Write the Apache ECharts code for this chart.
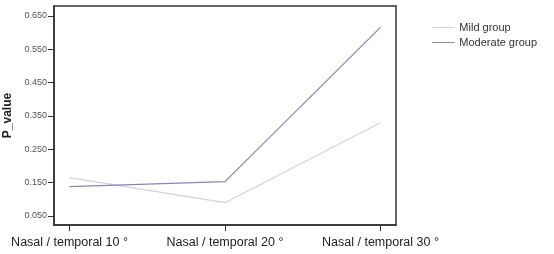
<!DOCTYPE html>
<html><head><meta charset="utf-8">
<script src="https://cdn.jsdelivr.net/npm/echarts@6/dist/echarts.min.js"></script>
<style>html,body{margin:0;padding:0;background:#fff}#c{width:554px;height:254px}</style>
</head><body><div id="c"></div>
<script>
const categories = ["Nasal / temporal 10 °", "Nasal / temporal 20 °", "Nasal / temporal 30 °"];
const mildGroup = [0.165, 0.090, 0.330];
const moderateGroup = [0.138, 0.153, 0.616];
const yTicks = [0.05, 0.15, 0.25, 0.35, 0.45, 0.55, 0.65];
const xTicks = [0, 1, 2];

const chart = echarts.init(document.getElementById('c'));
const font = 'Liberation Sans, Arial, sans-serif';
chart.setOption({
  animation: false,
  grid: {left: 54, right: 158, top: 6, bottom: 29, outerBoundsMode: 'none', containLabel: false, show: true, borderColor: '#333', borderWidth: 1.5, backgroundColor: 'transparent'},
  legend: {
    right: 12, top: 17, orient: 'vertical', itemGap: 4, itemWidth: 22, itemHeight: 10,
    icon: 'path://M0,4.5L22,4.5L22,5.5L0,5.5Z',
    textStyle: {fontFamily: font, fontSize: 11, color: '#333'},
    data: ['Mild group', 'Moderate group']
  },
  xAxis: {
    type: 'value', min: -0.1, max: 2.1,
    splitLine: {show: false},
    axisLine: {onZero: false, lineStyle: {color: '#333', width: 1.5}},
    axisTick: {show: true, length: 6, lineStyle: {color: '#333'}, customValues: xTicks},
    axisLabel: {customValues: xTicks, formatter: v => categories[Math.round(v)], fontFamily: font, fontSize: 12.5, color: '#222', margin: 11, showMinLabel: true, showMaxLabel: true}
  },
  yAxis: {
    type: 'value', min: 0.023, max: 0.68,
    name: 'P_value', nameLocation: 'middle', nameGap: 37, nameRotate: 90,
    nameTextStyle: {fontFamily: font, fontSize: 12, fontWeight: 'bold', color: '#222'},
    splitLine: {show: false},
    axisLine: {onZero: false, lineStyle: {color: '#333', width: 1.5}},
    axisTick: {show: true, length: 6, lineStyle: {color: '#333'}, customValues: yTicks},
    axisLabel: {customValues: yTicks, formatter: v => v.toFixed(3), fontFamily: font, fontSize: 9, color: '#555', margin: 7}
  },
  series: [
    {name: 'Mild group', type: 'line', symbol: 'none', data: mildGroup.map((v, i) => [xTicks[i], v]),
      lineStyle: {color: '#d6d0d8', width: 1.2}, itemStyle: {color: '#d6d0d8'}},
    {name: 'Moderate group', type: 'line', symbol: 'none', data: moderateGroup.map((v, i) => [xTicks[i], v]),
      lineStyle: {color: '#8a84b8', width: 1.2}, itemStyle: {color: '#8a84c4'}}
  ]
});
</script></body></html>
